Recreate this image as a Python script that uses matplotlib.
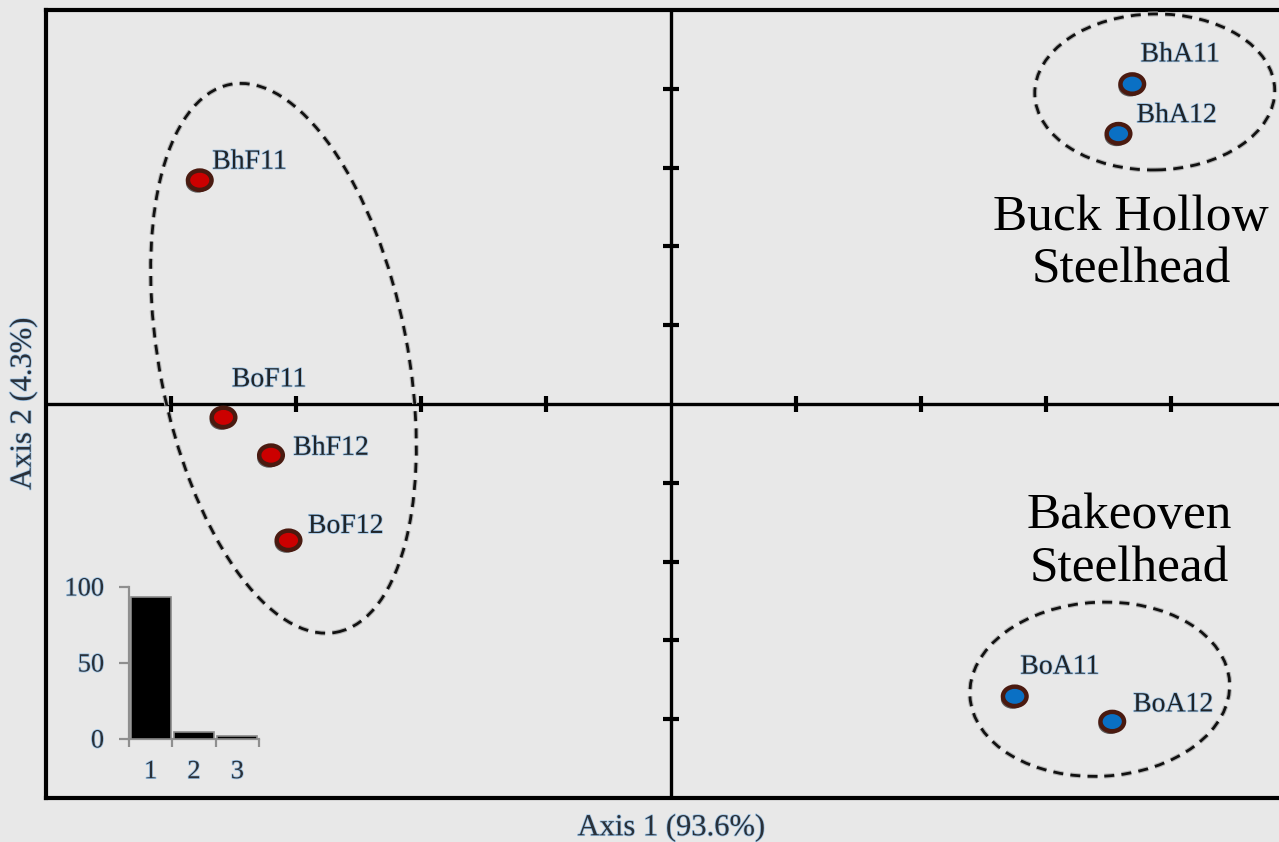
import numpy as np
import matplotlib
matplotlib.use('Agg')
import matplotlib.pyplot as plt
from matplotlib.patches import Ellipse
from matplotlib.transforms import ScaledTranslation, Affine2D
from matplotlib.path import Path
from matplotlib.markers import MarkerStyle
import matplotlib.patheffects as pe

# ---------------- data ----------------
samples = ['BhF11', 'BoF11', 'BhF12', 'BoF12', 'BhA11', 'BhA12', 'BoA11', 'BoA12']
axis1 = [-3.77, -3.58, -3.20, -3.06, 3.69, 3.58, 2.75, 3.53]
axis2 = [2.84, -0.17, -0.65, -1.73, 4.06, 3.43, -3.71, -4.03]
groups = ['F', 'F', 'F', 'F', 'A', 'A', 'A', 'A']
eigen_axes = ['1', '2', '3']
eigen_pct = [93.6, 4.3, 2.1]
axis_ticks = [-4, -3, -2, -1, 1, 2, 3, 4]
region_names = ['Buck Hollow\nSteelhead', 'Bakeoven\nSteelhead']

# ---------------- styles / positions ----------------
group_colors = {'F': '#cc0000', 'A': '#0a70c4'}
edge_color = '#4a1a10'
# label offsets (points)
label_offsets = [(9, 13), (6, 27), (16, 5), (14, 10), (6, 21), (13, 13), (4, 21), (15, 12)]
# ellipses: center (data), semi-axes (px), angle (deg)
ellipses = [((-3.10, 0.58), 124, 279, 11), ((3.87, 3.96), 120, 78, 1), ((3.43, -3.62), 130, 87, 3)]
region_pos = [(3.68, 2.03), (3.67, -1.76)]

W, H = 1279, 842
fig = plt.figure(figsize=(W / 100, H / 100), dpi=100)
bg = '#e8e8e8'
fig.patch.set_facecolor(bg)

ax = fig.add_axes([46 / W, 1 - 798 / H, 1250 / W, 788 / H])
ax.set_facecolor(bg)
ax.set_xlim(-5, 5)
ax.set_ylim(-5, 5)
ax.set_xticks([])
ax.set_yticks([])
for s in ax.spines.values():
    s.set_linewidth(3.0)
    s.set_color('black')

# crosshair
ax.axhline(0, color='black', lw=2.4, zorder=2)
ax.axvline(0, color='black', lw=2.4, zorder=2)
ax.plot(axis_ticks, [0] * len(axis_ticks), ls='none', marker='|', ms=11, mew=3, color='black', zorder=2)
ax.plot([0] * len(axis_ticks), axis_ticks, ls='none', marker='_', ms=11, mew=3, color='black', zorder=2)

# ellipses
halo = [pe.withStroke(linewidth=3.6, foreground='#b5b5b5')]
for (c, b, a, ang) in ellipses:
    e = Ellipse((0, 0), width=2 * b / 100, height=2 * a / 100, angle=ang,
                transform=fig.dpi_scale_trans + ScaledTranslation(c[0], c[1], ax.transData),
                fill=False, edgecolor='#111111', lw=2.0, linestyle=(0, (3.6, 2.6)), zorder=3)
    e.set_path_effects(halo)
    ax.add_patch(e)

# markers
circ = Path.unit_circle()
oval = circ.transformed(Affine2D().scale(1.0, 0.82))
mk = MarkerStyle(oval)
shadow = [pe.SimplePatchShadow(offset=(-1.5, -2.0), shadow_rgbFace='black', alpha=0.6), pe.Normal()]
for g in ['F', 'A']:
    xs = [x for x, gg in zip(axis1, groups) if gg == g]
    ys = [y for y, gg in zip(axis2, groups) if gg == g]
    ln, = ax.plot(xs, ys, ls='none', marker=mk, ms=17, mfc=group_colors[g], mec=edge_color, mew=3.2, zorder=5)
    ln.set_path_effects(shadow)

txt_fx = [pe.withStroke(linewidth=1.1, foreground='#9cc3e6')]
for name, x, y, off in zip(samples, axis1, axis2, label_offsets):
    t = ax.annotate(name, (x, y), xytext=off, textcoords='offset points', ha='left', va='center',
                    fontsize=20, family='Liberation Serif', color='#202428', zorder=6)
    t.set_path_effects(txt_fx)

for name, (x, y) in zip(region_names, region_pos):
    ax.text(x, y, name, ha='center', va='center', fontsize=37, family='Liberation Serif',
            color='black', linespacing=1.18, zorder=6)

ax.set_xlabel('Axis 1 (93.6%)', fontsize=22, family='Liberation Serif', color='#2a3038', labelpad=11)
ax.set_ylabel('Axis 2 (4.3%)', fontsize=22, family='Liberation Serif', color='#2a3038', labelpad=6)
ax.xaxis.label.set_path_effects(txt_fx)
ax.yaxis.label.set_path_effects(txt_fx)

# inset scree plot
ins = fig.add_axes([129 / W, 1 - 739 / H, 130 / W, 152 / H])
ins.patch.set_alpha(0)
xpos = np.arange(1, len(eigen_pct) + 1)
ins.bar(xpos, eigen_pct, width=0.93, color='black', edgecolor='#8a8a8a', lw=1.2, zorder=3)
ins.set_xlim(0.5, 3.5)
ins.set_ylim(0, 100)
for s in ['top', 'right']:
    ins.spines[s].set_visible(False)
for s in ['left', 'bottom']:
    ins.spines[s].set_color('#8f8f8f')
    ins.spines[s].set_linewidth(1.6)
ins.set_yticks([0, 50, 100])
ins.set_xticks(xpos)
ins.set_xticklabels(eigen_axes)
ins.set_xticks([0.5, 1.5, 2.5, 3.5], minor=True)
ins.tick_params(axis='y', direction='out', length=7, width=1.6, color='#8f8f8f', pad=11,
                labelsize=19, labelcolor='#2a3038')
ins.tick_params(axis='x', which='major', length=0, pad=16, labelsize=19, labelcolor='#2a3038')
ins.tick_params(axis='x', which='minor', direction='out', length=6, width=1.6, color='#8f8f8f')
for lab in ins.get_xticklabels() + ins.get_yticklabels():
    lab.set_family('Liberation Serif')
    lab.set_path_effects(txt_fx)

fig.savefig('out.png', dpi=100, facecolor=bg)
